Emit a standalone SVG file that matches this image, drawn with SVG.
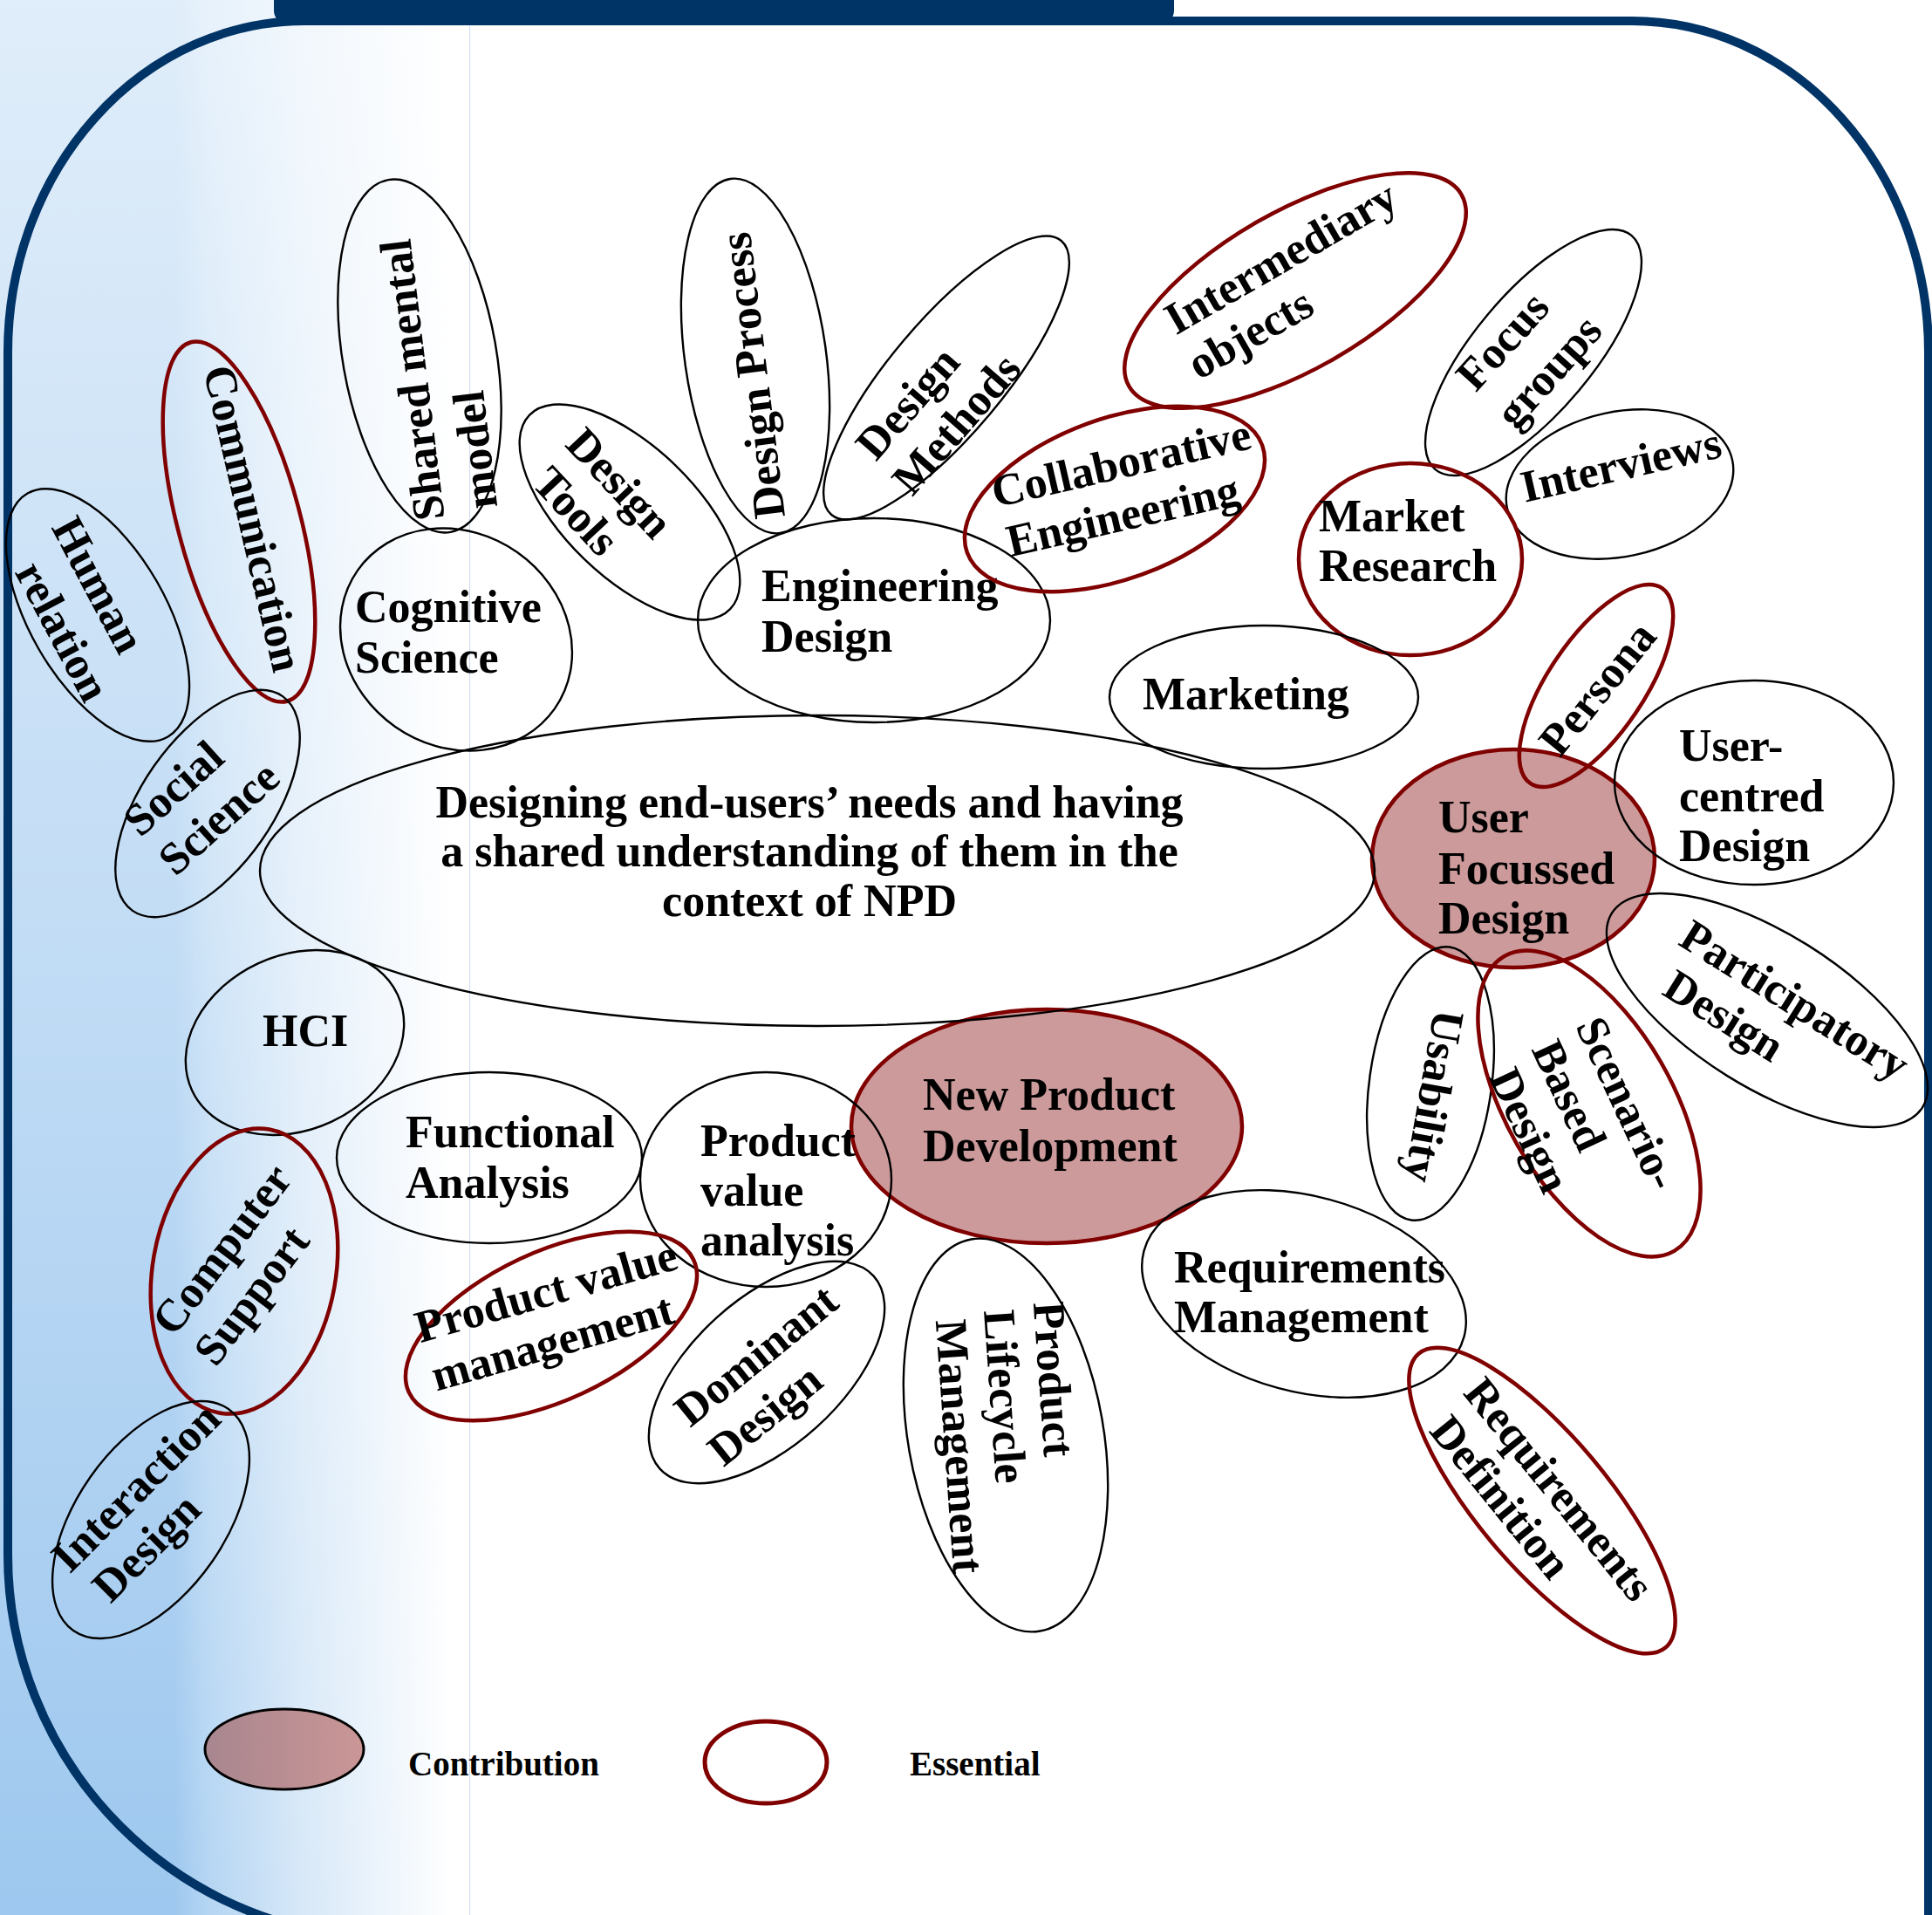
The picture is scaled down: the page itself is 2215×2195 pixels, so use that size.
<svg xmlns="http://www.w3.org/2000/svg" width="2215" height="2195" viewBox="0 0 2215 2195">
<defs>
<linearGradient id="bgx" gradientUnits="userSpaceOnUse" x1="0" y1="0" x2="540" y2="0">
<stop offset="0" stop-color="#9ec8ef"/><stop offset="0.37" stop-color="#9ec8ef"/><stop offset="0.44" stop-color="#b4d5f3"/><stop offset="0.64" stop-color="#d7e8f8"/><stop offset="0.96" stop-color="#ffffff"/>
</linearGradient>
<linearGradient id="bgy" gradientUnits="userSpaceOnUse" x1="0" y1="0" x2="0" y2="2195">
<stop offset="0" stop-color="#ffffff" stop-opacity="0.68"/><stop offset="0.49" stop-color="#ffffff" stop-opacity="0.37"/><stop offset="1" stop-color="#ffffff" stop-opacity="0"/>
</linearGradient>
<linearGradient id="contrib" x1="0" y1="0" x2="1" y2="0">
<stop offset="0" stop-color="#a8868f"/><stop offset="1" stop-color="#cb9696"/>
</linearGradient>
<style>
.n{fill:none;stroke:#000;stroke-width:2.4}
.e{fill:none;stroke:#800000;stroke-width:4.5}
.c{fill:#cc9a9a;stroke:#800000;stroke-width:4.5}
.t{font-family:"Liberation Serif","Times New Roman",serif;font-weight:bold;font-size:52px;fill:#000}
.m{text-anchor:middle}
.l{font-family:"Liberation Serif","Times New Roman",serif;font-weight:bold;font-size:39px;fill:#000}
</style>
</defs>

<g id="background">
<rect x="0" y="0" width="540" height="2195" fill="url(#bgx)"/>
<rect x="0" y="0" width="540" height="2195" fill="url(#bgy)"/>
<line x1="538.5" y1="29" x2="538.5" y2="2195" stroke="#c9dbee" stroke-width="1"/>
<rect x="314" y="-30" width="1032" height="58" rx="16" fill="#003366"/>
<path d="M 9 404 A 340 380 0 0 1 349 24 L 1871 24 A 340 380 0 0 1 2211 404 L 2211 2260 M 9 404 L 9 1782 A 440 440 0 0 0 449 2222 L 1800 2222" fill="none" stroke="#003366" stroke-width="10"/>
</g>

<g id="node-npd"><ellipse class="c" cx="1200" cy="1291" rx="224" ry="134"/>
<text class="t" x="1058" y="1272">New Product</text><text class="t" x="1058" y="1331">Development</text></g>

<g id="node-ufd"><ellipse class="c" cx="1735" cy="984" rx="162" ry="125"/>
<text class="t" x="1649" y="954">User</text><text class="t" x="1649" y="1013">Focussed</text><text class="t" x="1649" y="1070">Design</text></g>

<g id="node-central"><ellipse class="n" cx="937" cy="998" rx="639" ry="178"/>
<text class="t m" x="928" y="937">Designing end-users’ needs and having</text>
<text class="t m" x="928" y="993">a shared understanding of them in the</text>
<text class="t m" x="928" y="1050">context of NPD</text></g>

<g id="node-human-relation"><ellipse class="n" cx="112" cy="705" rx="161" ry="78" transform="rotate(60 112 705)"/>
<text class="t m" transform="translate(110 672) rotate(62)" y="14">Human</text>
<text class="t m" transform="translate(69 725) rotate(62)" y="14">relation</text></g>

<g id="node-communication"><ellipse class="e" cx="274" cy="598" rx="213" ry="70" transform="rotate(75 274 598)"/>
<text class="t m" transform="translate(287 595) rotate(77)" y="14">Communication</text></g>

<g id="node-shared-mental-model"><ellipse class="n" cx="481" cy="408" rx="205" ry="88" transform="rotate(80 481 408)"/>
<text class="t m" transform="translate(478 435) rotate(-97)" y="12">Shared mental</text>
<text class="t m" transform="translate(550 515) rotate(-97)" y="12">model</text></g>

<g id="node-cognitive-science"><ellipse class="n" cx="523" cy="733" rx="138" ry="122" transform="rotate(35 523 733)"/>
<text class="t" x="407" y="713">Cognitive</text><text class="t" x="407" y="771">Science</text></g>

<g id="node-design-tools"><ellipse class="n" cx="722" cy="587" rx="160" ry="75" transform="rotate(44 722 587)"/>
<text class="t m" transform="translate(708 556) rotate(47)" y="14">Design</text>
<text class="t m" transform="translate(658 588) rotate(47)" y="14">Tools</text></g>

<g id="node-design-process"><ellipse class="n" cx="866" cy="408" rx="205" ry="81" transform="rotate(82 866 408)"/>
<text class="t m" transform="translate(866 430) rotate(-97)" y="14">Design Process</text></g>

<g id="node-design-methods"><ellipse class="n" cx="1085" cy="433" rx="205" ry="65" transform="rotate(-50 1085 433)"/>
<text class="t m" transform="translate(1043 464) rotate(-49)" y="14">Design</text>
<text class="t m" transform="translate(1099 488) rotate(-49)" y="14">Methods</text></g>

<g id="node-engineering-design"><ellipse class="n" cx="1002" cy="711" rx="202" ry="117"/>
<text class="t" x="873" y="689">Engineering</text><text class="t" x="873" y="747">Design</text></g>

<g id="node-collaborative-engineering"><ellipse class="e" cx="1278" cy="572" rx="180" ry="92" transform="rotate(-20 1278 572)"/>
<text class="t m" transform="translate(1286 534) rotate(-13)" y="14">Collaborative</text>
<text class="t m" transform="translate(1288 594) rotate(-13)" y="14">Engineering</text></g>

<g id="node-intermediary-objects"><ellipse class="e" cx="1485" cy="333" rx="220" ry="90" transform="rotate(-30 1485 333)"/>
<text class="t m" transform="translate(1470 298) rotate(-30)" y="14">Intermediary</text>
<text class="t m" transform="translate(1435 385) rotate(-30)" y="14">objects</text></g>

<g id="node-focus-groups"><ellipse class="n" cx="1758" cy="404" rx="175" ry="68" transform="rotate(-50 1758 404)"/>
<text class="t m" transform="translate(1725 393) rotate(-48)" y="14">Focus</text>
<text class="t m" transform="translate(1778 428) rotate(-48)" y="14">groups</text></g>

<g id="node-interviews"><ellipse class="n" cx="1857" cy="555" rx="132" ry="83" transform="rotate(-12 1857 555)"/>
<text class="t m" transform="translate(1859 536) rotate(-13)" y="14">Interviews</text></g>

<g id="node-market-research"><ellipse class="e" cx="1617" cy="641" rx="128" ry="110"/>
<text class="t" x="1512" y="609">Market</text><text class="t" x="1512" y="666">Research</text></g>

<g id="node-marketing"><ellipse class="n" cx="1449" cy="799" rx="177" ry="82"/>
<text class="t" x="1310" y="813">Marketing</text></g>

<g id="node-persona"><ellipse class="e" cx="1830" cy="786" rx="135" ry="55" transform="rotate(-56 1830 786)"/>
<text class="t m" transform="translate(1834 791) rotate(-51)" y="14">Persona</text></g>

<g id="node-user-centred-design"><ellipse class="n" cx="2011" cy="897" rx="160" ry="117"/>
<text class="t" x="1925" y="872">User-</text><text class="t" x="1925" y="930">centred</text><text class="t" x="1925" y="987">Design</text></g>

<g id="node-participatory-design"><ellipse class="n" cx="2026" cy="1158" rx="210" ry="88" transform="rotate(32 2026 1158)"/>
<text class="t m" transform="translate(2056 1149) rotate(32)" y="14">Participatory</text>
<text class="t m" transform="translate(1975 1167) rotate(32)" y="14">Design</text></g>

<g id="node-usability"><ellipse class="n" cx="1640" cy="1242" rx="158" ry="70" transform="rotate(98 1640 1242)"/>
<text class="t m" transform="translate(1641 1256) rotate(100)" y="14">Usability</text></g>

<g id="node-scenario-based-design"><ellipse class="e" cx="1822" cy="1265" rx="195" ry="95" transform="rotate(60 1822 1265)"/>
<text class="t m" transform="translate(1863 1266) rotate(65)" y="14">Scenario-</text>
<text class="t m" transform="translate(1796 1257) rotate(65)" y="14">Based</text>
<text class="t m" transform="translate(1751 1297) rotate(65)" y="14">Design</text></g>

<g id="node-social-science"><ellipse class="n" cx="238" cy="921" rx="150" ry="75" transform="rotate(-55 238 921)"/>
<text class="t m" transform="translate(201 906) rotate(-42)" y="14">Social</text>
<text class="t m" transform="translate(253 940) rotate(-42)" y="14">Science</text></g>

<g id="node-hci"><ellipse class="n" cx="338" cy="1195" rx="130" ry="100" transform="rotate(-25 338 1195)"/>
<text class="t" x="301" y="1199">HCI</text></g>

<g id="node-functional-analysis"><ellipse class="n" cx="561" cy="1327" rx="175" ry="98"/>
<text class="t" x="465" y="1315">Functional</text><text class="t" x="465" y="1373">Analysis</text></g>

<g id="node-product-value-analysis"><ellipse class="n" cx="878" cy="1352" rx="144" ry="123"/>
<text class="t" x="803" y="1325">Product</text><text class="t" x="803" y="1382">value</text><text class="t" x="803" y="1439">analysis</text></g>

<g id="node-computer-support"><ellipse class="e" cx="280" cy="1457" rx="165" ry="105" transform="rotate(-80 280 1457)"/>
<text class="t m" transform="translate(257 1434) rotate(-53)" y="14">Computer</text>
<text class="t m" transform="translate(291 1487) rotate(-53)" y="14">Support</text></g>

<g id="node-product-value-management"><ellipse class="e" cx="632" cy="1520" rx="180" ry="85" transform="rotate(-25 632 1520)"/>
<text class="t m" transform="translate(627 1483) rotate(-16)" y="14">Product value</text>
<text class="t m" transform="translate(634 1542) rotate(-16)" y="14">management</text></g>

<g id="node-dominant-design"><ellipse class="n" cx="879" cy="1573" rx="165" ry="85" transform="rotate(-42 879 1573)"/>
<text class="t m" transform="translate(869 1556) rotate(-39)" y="14">Dominant</text>
<text class="t m" transform="translate(879 1624) rotate(-39)" y="14">Design</text></g>

<g id="node-plm"><ellipse class="n" cx="1153" cy="1645" rx="228" ry="112" transform="rotate(80 1153 1645)"/>
<text class="t m" transform="translate(1205 1581) rotate(86)" y="14">Product</text>
<text class="t m" transform="translate(1149 1601) rotate(86)" y="14">Lifecycle</text>
<text class="t m" transform="translate(1097 1658) rotate(86)" y="14">Management</text></g>

<g id="node-requirements-management"><ellipse class="n" cx="1495" cy="1483" rx="190" ry="112" transform="rotate(15 1495 1483)"/>
<text class="t" x="1346" y="1470">Requirements</text><text class="t" x="1346" y="1527">Management</text></g>

<g id="node-requirements-definition"><ellipse class="e" cx="1768" cy="1720" rx="220" ry="75" transform="rotate(50 1768 1720)"/>
<text class="t m" transform="translate(1785 1709) rotate(51)" y="14">Requirements</text>
<text class="t m" transform="translate(1718 1718) rotate(51)" y="14">Definition</text></g>

<g id="node-interaction-design"><ellipse class="n" cx="173" cy="1742" rx="155" ry="85" transform="rotate(-55 173 1742)"/>
<text class="t m" transform="translate(158 1707) rotate(-45)" y="14">Interaction</text>
<text class="t m" transform="translate(170 1776) rotate(-45)" y="14">Design</text></g>

<g id="legend">
<ellipse cx="326" cy="2005" rx="91" ry="46" fill="url(#contrib)" stroke="#000" stroke-width="3"/>
<text class="l" x="468" y="2035">Contribution</text>
<ellipse cx="878" cy="2020" rx="70" ry="47" fill="none" stroke="#800000" stroke-width="5"/>
<text class="l" x="1043" y="2035">Essential</text>
</g>
</svg>
